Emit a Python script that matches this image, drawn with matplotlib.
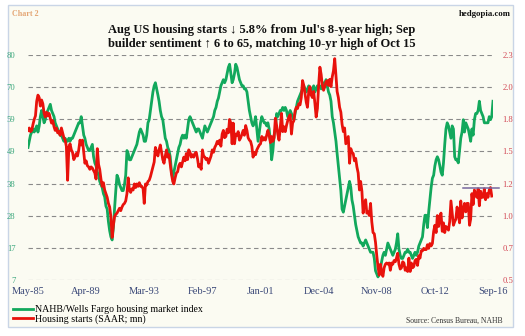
import numpy as np
import pandas as pd
import matplotlib
matplotlib.use("Agg")
import matplotlib.pyplot as plt
from matplotlib.lines import Line2D
from matplotlib.patches import Rectangle

plt.rcParams['font.family'] = ['Liberation Serif', 'DejaVu Serif']

# NAHB/Wells Fargo housing market index, monthly May 1985 - Sep 2016
nahb = (
    [50, 52, 54, 55, 56, 55, 56, 57]                              # 1985 (May-Dec)
    + [55, 57, 60, 62, 60, 58, 59, 61, 62, 63, 64, 62]            # 1986
    + [61, 60, 58, 57, 56, 55, 54, 54, 53, 52, 53, 52]            # 1987
    + [52, 53, 52, 53, 53, 54, 55, 56, 57, 58, 58, 60]            # 1988
    + [57, 54, 53, 51, 50, 49, 49, 50, 51, 47, 45, 44]            # 1989
    + [42, 41, 39, 38, 37, 35, 34, 31, 30, 26, 23, 21]            # 1990
    + [20, 24, 30, 36, 41, 40, 38, 37, 36, 36, 38, 41]            # 1991
    + [49, 48, 46, 46, 47, 48, 49, 50, 51, 53, 55, 56]            # 1992
    + [55, 54, 52, 52, 54, 58, 59, 62, 65, 68, 70, 71]            # 1993
    + [69, 67, 65, 62, 60, 59, 56, 53, 52, 50, 49, 47]            # 1994
    + [42, 40, 42, 44, 46, 48, 50, 51, 53, 54, 53, 54]            # 1995
    + [53, 56, 59, 60, 59, 58, 57, 56, 55, 56, 56, 55]            # 1996
    + [54, 53, 55, 57, 56, 55, 56, 57, 58, 59, 60, 62]            # 1997
    + [63, 65, 66, 68, 70, 71, 72, 71, 72, 74, 76, 77]            # 1998
    + [74, 71, 72, 74, 77, 76, 74, 72, 71, 70, 70, 69]            # 1999
    + [69, 68, 65, 62, 60, 58, 57, 58, 60, 56, 52, 55]            # 2000
    + [58, 60, 59, 58, 58, 57, 58, 56, 52, 46, 49, 54]            # 2001
    + [56, 61, 60, 61, 62, 62, 63, 62, 63, 62, 60, 61]            # 2002
    + [62, 61, 60, 59, 61, 63, 65, 66, 67, 68, 69, 70]            # 2003
    + [69, 68, 69, 70, 69, 68, 69, 70, 68, 69, 70, 70]            # 2004
    + [70, 69, 70, 71, 70, 72, 70, 68, 67, 65, 60, 58]            # 2005
    + [55, 52, 48, 44, 40, 36, 30, 29, 31, 33, 35, 37]            # 2006
    + [39, 37, 33, 31, 28, 25, 23, 21, 20, 19, 19, 18]            # 2007
    + [19, 20, 19, 18, 17, 16, 16, 16, 14, 10, 9, 8]              # 2008
    + [9, 11, 13, 15, 16, 15, 17, 19, 18, 17, 16, 15]             # 2009
    + [16, 17, 19, 22, 17, 15, 14, 14, 15, 16, 16, 17]            # 2010
    + [16, 16, 15, 14, 15, 16, 15, 16, 18, 19, 20, 21]            # 2011
    + [25, 28, 28, 24, 29, 33, 37, 40, 41, 44, 46, 47]            # 2012
    + [46, 44, 42, 41, 45, 51, 56, 58, 57, 55, 53, 57]            # 2013
    + [56, 47, 46, 46, 45, 49, 53, 55, 59, 55, 58, 57]            # 2014
    + [56, 54, 52, 56, 54, 59, 61, 61, 62, 65, 62, 61]            # 2015
    + [60, 58, 58, 58, 58, 60, 59, 60, 65]                        # 2016 (Jan-Sep)
)

# Housing starts, SAAR in millions, May 1985 - Aug 2016
starts = (
    [1.68, 1.70, 1.67, 1.68, 1.73, 1.77, 1.80, 1.92]
    + [1.97, 1.95, 1.88, 1.93, 1.90, 1.82, 1.79, 1.83, 1.80, 1.82, 1.78, 1.74]
    + [1.76, 1.71, 1.68, 1.70, 1.66, 1.67, 1.64, 1.70, 1.66, 1.62, 1.60, 1.55]
    + [1.27, 1.54, 1.57, 1.52, 1.50, 1.44, 1.46, 1.49, 1.47, 1.52, 1.60, 1.56]
    + [1.60, 1.50, 1.41, 1.43, 1.39, 1.38, 1.36, 1.38, 1.37, 1.35, 1.33, 1.28]
    + [1.53, 1.40, 1.36, 1.28, 1.22, 1.25, 1.19, 1.16, 1.13, 1.08, 1.05, 0.97]
    + [0.80, 0.90, 0.97, 0.99, 1.00, 1.02, 1.04, 1.02, 1.05, 1.07, 1.08, 1.10]
    + [1.16, 1.29, 1.19, 1.17, 1.20, 1.19, 1.24, 1.21, 1.24, 1.22, 1.25, 1.22]
    + [1.22, 1.20, 1.08, 1.24, 1.23, 1.26, 1.27, 1.30, 1.34, 1.38, 1.42, 1.54]
    + [1.50, 1.47, 1.52, 1.56, 1.50, 1.44, 1.41, 1.47, 1.52, 1.46, 1.48, 1.40]
    + [1.32, 1.26, 1.24, 1.29, 1.33, 1.34, 1.39, 1.41, 1.38, 1.42, 1.46, 1.43]
    + [1.49, 1.44, 1.52, 1.50, 1.46, 1.48, 1.46, 1.49, 1.50, 1.45, 1.38, 1.40]
    + [1.36, 1.52, 1.47, 1.46, 1.44, 1.45, 1.41, 1.44, 1.47, 1.52, 1.50, 1.54]
    + [1.56, 1.59, 1.57, 1.60, 1.55, 1.65, 1.68, 1.62, 1.63, 1.69, 1.66, 1.77]
    + [1.74, 1.57, 1.74, 1.57, 1.65, 1.64, 1.67, 1.60, 1.62, 1.65, 1.68, 1.64]
    + [1.72, 1.68, 1.62, 1.60, 1.59, 1.55, 1.46, 1.50, 1.48, 1.52, 1.54, 1.56]
    + [1.57, 1.63, 1.60, 1.62, 1.60, 1.64, 1.68, 1.64, 1.58, 1.63, 1.59, 1.62]
    + [1.78, 1.72, 1.65, 1.60, 1.70, 1.82, 1.67, 1.71, 1.67, 1.72, 1.76, 1.79]
    + [1.81, 1.65, 1.74, 1.76, 1.84, 1.87, 1.86, 1.90, 1.89, 1.95, 2.09, 2.05]
    + [1.98, 1.91, 1.87, 2.00, 2.04, 1.97, 1.95, 2.00, 1.90, 1.79, 1.86, 2.05]
    + [2.20, 2.14, 2.05, 2.01, 2.04, 2.08, 2.09, 2.05, 2.10, 2.04, 2.12, 2.17]
    + [2.27, 2.13, 2.00, 1.95, 1.87, 1.83, 1.73, 1.67, 1.70, 1.57, 1.60, 1.63]
    + [1.41, 1.53, 1.50, 1.49, 1.43, 1.45, 1.38, 1.33, 1.19, 1.26, 1.18, 1.00]
    + [1.08, 1.11, 1.00, 1.01, 0.98, 1.08, 0.93, 0.84, 0.83, 0.76, 0.65, 0.56]
    + [0.49, 0.58, 0.51, 0.48, 0.55, 0.58, 0.59, 0.58, 0.59, 0.53, 0.59, 0.58]
    + [0.61, 0.60, 0.63, 0.67, 0.58, 0.54, 0.55, 0.60, 0.59, 0.53, 0.55, 0.52]
    + [0.63, 0.52, 0.59, 0.55, 0.56, 0.61, 0.62, 0.57, 0.65, 0.63, 0.69, 0.69]
    + [0.71, 0.70, 0.70, 0.74, 0.71, 0.75, 0.73, 0.75, 0.85, 0.90, 0.84, 0.98]
    + [0.89, 0.97, 1.00, 0.85, 0.92, 0.84, 0.89, 0.88, 0.86, 0.93, 1.10, 1.00]
    + [0.90, 0.93, 0.95, 1.05, 0.99, 0.92, 1.10, 0.96, 1.03, 1.08, 1.01, 1.08]
    + [1.08, 0.90, 0.95, 1.16, 1.07, 1.19, 1.15, 1.13, 1.20, 1.06, 1.18, 1.13]
    + [1.13, 1.20, 1.11, 1.16, 1.13, 1.19, 1.21, 1.14]
)

left_ticklabels = ['7', '17', '28', '38', '49', '59', '70', '80']
right_ticklabels = ['0.5', '0.7', '1.0', '1.2', '1.5', '1.8', '2.0', '2.3']
x_ticklabels = ['May-85', 'Apr-89', 'Mar-93', 'Feb-97', 'Jan-01',
                'Dec-04', 'Nov-08', 'Oct-12', 'Sep-16']

dates = pd.date_range('1985-05-01', periods=len(nahb), freq='MS')
jul16_high = starts[-2]

GREEN = '#12a85c'
RED = '#e8120c'

fig = plt.figure(figsize=(5.25, 3.36), dpi=100)
fig.patch.set_facecolor('white')
fig.add_artist(Rectangle((8 / 525, 1 - 327 / 336), 505 / 525, 322 / 336,
                         transform=fig.transFigure, facecolor='#fbfbf2',
                         edgecolor='#c9d5e6', lw=1.0, zorder=-10))

ax = fig.add_axes([28 / 525, 1 - 280 / 336, 465 / 525, 225 / 336])
ax.set_facecolor('none')
ax2 = ax.twinx()

ax.plot(dates, nahb, color=GREEN, lw=2.0, solid_joinstyle='round')
ax2.plot(dates[:len(starts)], starts, color=RED, lw=2.0, solid_joinstyle='round')
ax2.plot([pd.Timestamp('2014-09-01'), pd.Timestamp('2017-01-15')],
         [jul16_high, jul16_high], color='#76679e', lw=1.1, clip_on=False)

ax.set_xlim(dates[0], dates[-1])
ax.set_ylim(7, 80)
ax2.set_ylim(0.45, 2.3)

ax.set_yticks(np.linspace(7, 80, 8))
ax.set_yticklabels(left_ticklabels)
ax2.set_yticks(np.linspace(0.45, 2.3, 8))
ax2.set_yticklabels(right_ticklabels)
ax.set_xticks(dates[::47])
ax.set_xticklabels(x_ticklabels)

ax.grid(axis='y', color='#8a8a8a', lw=0.8, ls=(0, (4, 3)))
for a in (ax, ax2):
    for s in a.spines.values():
        s.set_visible(False)
    a.tick_params(length=0)
ax.tick_params(axis='y', labelsize=6.2, colors='#3aa67c', pad=9)
ax2.tick_params(axis='y', labelsize=6.2, colors='#d24856', pad=7)
ax.tick_params(axis='x', labelsize=7.5, colors='#3a4878', pad=5)

fig.text(262 / 525, 1 - 37 / 336,
         "Aug US housing starts \u2193 5.8% from Jul's 8-year high; Sep\n"
         "builder sentiment \u2191 6 to 65, matching 10-yr high of Oct 15",
         ha='center', va='center', fontsize=9.0, fontweight='bold',
         linespacing=1.15, color='#111111')
fig.text(12 / 525, 1 - 14 / 336, 'Chart 2', ha='left', va='center',
         fontsize=5.8, fontweight='bold', color='#e4a574')
fig.text(511 / 525, 1 - 14 / 336, 'hedgopia.com', ha='right', va='center',
         fontsize=6.3, fontweight='bold', color='#111111')
fig.text(503 / 525, 1 - 321 / 336, 'Source: Census Bureau, NAHB',
         ha='right', va='center', fontsize=5.5, color='#333333')

handles = [Line2D([], [], color=GREEN, lw=2.0), Line2D([], [], color=RED, lw=2.0)]
fig.legend(handles, ['NAHB/Wells Fargo housing market index',
                     'Housing starts (SAAR; mn)'],
           loc='upper left', bbox_to_anchor=(13 / 525, 1 - 305 / 336),
           frameon=False, fontsize=7.1, handlelength=2.0, handletextpad=0.2,
           labelspacing=0.05, borderpad=0, borderaxespad=0)

fig.savefig('out.png', dpi=100)
